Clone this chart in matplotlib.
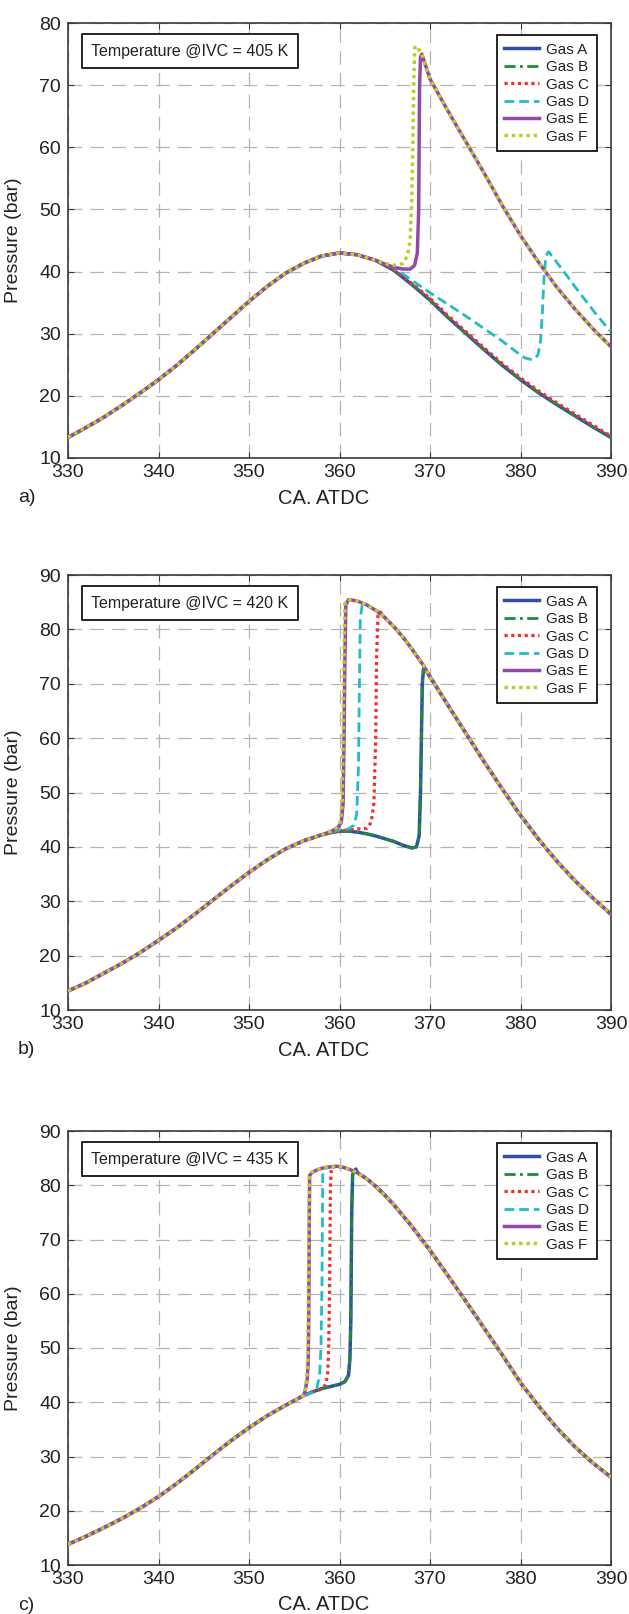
import numpy as np
import matplotlib
matplotlib.use("Agg")
import matplotlib.pyplot as plt

plt.rcParams['font.family'] = ['Liberation Sans', 'DejaVu Sans']

# ---------------- DATA ----------------
gas_names = ["Gas A", "Gas B", "Gas C", "Gas D", "Gas E", "Gas F"]
panel_tags = ["a)", "b)", "c)"]
ivc_temps = [405, 420, 435]
x_ticks = [330, 340, 350, 360, 370, 380, 390]
y_ticks_a = [10, 20, 30, 40, 50, 60, 70, 80]
y_ticks_bc = [10, 20, 30, 40, 50, 60, 70, 80, 90]

# ---- Panel a (405 K) ----
a_comp_x = [330, 332, 334, 336, 338, 340, 342, 344, 346, 348, 350, 352, 354, 356, 358, 360, 362, 364]
a_comp_p = [13.3, 14.9, 16.6, 18.5, 20.5, 22.6, 24.9, 27.4, 30.0, 32.6, 35.2, 37.6, 39.7, 41.3, 42.5, 43.0, 42.7, 41.8]
a_AB_x = [366, 368, 370, 372, 374, 376, 378, 380, 382, 384, 386, 388, 390]
a_AB_p = [40.2, 37.9, 35.4, 32.6, 30.0, 27.4, 24.9, 22.6, 20.5, 18.6, 16.8, 15.0, 13.3]
a_C_x = [366, 368, 370, 372, 374, 376, 378, 380, 382, 384, 386, 388, 390]
a_C_p = [40.3, 38.1, 35.7, 32.9, 30.3, 27.7, 25.2, 22.9, 20.8, 18.9, 17.1, 15.3, 13.5]
a_D_x = [366, 368, 370, 372, 374, 376, 378, 379.5, 380.5, 381.3, 381.9, 382.2, 382.4, 382.6, 382.8,
         383.1, 384, 385, 386, 387, 388, 389, 390]
a_D_p = [40.6, 38.6, 36.6, 34.7, 32.8, 30.8, 28.8, 27.1, 26.1, 25.8, 26.5, 28.5, 33.0, 39.0, 42.5,
         43.2, 41.5, 39.6, 37.6, 35.7, 33.8, 32.0, 30.3]
a_E_x = [365, 366, 367, 367.8, 368.3, 368.6, 368.75, 368.8, 368.85, 368.95, 369.1]
a_E_p = [41.2, 40.7, 40.4, 40.4, 41.0, 43.0, 50.0, 60.0, 70.0, 74.5, 75.0]
a_F_x = [365, 366, 367, 367.5, 367.8, 368.0, 368.1, 368.2, 368.3, 368.6, 368.9, 369.1]
a_F_p = [41.3, 41.0, 41.3, 42.5, 45.0, 52.0, 60.0, 70.0, 76.0, 76.3, 75.3, 75.0]
a_exp_x = [370, 371, 372, 374, 376, 378, 380, 382, 384, 386, 388, 390]
a_exp_p = [71.0, 68.4, 65.8, 60.8, 55.8, 50.6, 45.8, 41.5, 37.5, 34.0, 30.8, 27.9]

# ---- Panel b (420 K) ----
b_comp_x = [330, 332, 334, 336, 338, 340, 342, 344, 346, 348, 350, 352, 354, 356, 358]
b_comp_p = [13.5, 15.0, 16.8, 18.6, 20.6, 22.8, 25.1, 27.6, 30.2, 32.8, 35.3, 37.6, 39.6, 41.1, 42.2]
b_AB_x = [359, 360, 361, 362, 363, 364, 365, 366, 367, 368, 368.5, 368.8, 368.95, 369.05, 369.15, 369.3]
b_AB_p = [42.6, 42.9, 42.9, 42.7, 42.4, 42.0, 41.5, 41.0, 40.3, 39.8, 40.0, 42.0, 50.0, 60.0, 70.0, 73.0]
b_C_x = [359, 360, 361, 362, 363, 363.5, 363.8, 364.0, 364.1, 364.25, 364.5]
b_C_p = [42.6, 42.9, 43.1, 43.3, 43.4, 44.5, 48.0, 60.0, 75.0, 82.5, 83.2]
b_D_x = [359, 360, 361, 361.6, 361.9, 362.1, 362.2, 362.3, 362.5, 363]
b_D_p = [42.7, 43.1, 43.3, 44.0, 46.0, 55.0, 70.0, 82.0, 84.4, 84.5]
b_E_x = [359, 359.8, 360.2, 360.4, 360.5, 360.6, 360.7, 361.0, 362]
b_E_p = [42.8, 43.5, 44.5, 48.0, 60.0, 75.0, 84.5, 85.5, 85.2]
b_F_x = [359, 359.7, 360.1, 360.3, 360.4, 360.5, 360.6, 360.9, 362]
b_F_p = [42.8, 43.5, 44.6, 48.0, 60.0, 75.0, 84.8, 85.5, 85.2]
b_top_x = [363, 364, 365, 366, 367, 368, 369, 369.3]
b_top_p = [84.5, 83.5, 82.2, 80.5, 78.6, 76.4, 74.0, 73.3]
b_exp_x = [370, 372, 374, 376, 378, 380, 382, 384, 386, 388, 390]
b_exp_p = [71.3, 66.0, 60.8, 55.6, 50.6, 45.8, 41.4, 37.4, 33.8, 30.6, 27.6]

# ---- Panel c (435 K) ----
c_comp_x = [330, 332, 334, 336, 338, 340, 342, 344, 346, 348, 350, 352, 354, 355, 356]
c_comp_p = [13.8, 15.3, 16.9, 18.6, 20.5, 22.6, 25.0, 27.6, 30.3, 32.9, 35.3, 37.5, 39.4, 40.3, 41.2]
c_AB_x = [357, 358, 359, 360, 360.6, 361.0, 361.15, 361.25, 361.3, 361.35, 361.45, 361.8]
c_AB_p = [41.9, 42.5, 42.9, 43.3, 43.8, 45.0, 48.0, 55.0, 65.0, 75.0, 82.0, 83.0]
c_C_x = [357, 358, 358.5, 358.7, 358.8, 358.9, 358.95, 359.0, 359.1]
c_C_p = [41.9, 42.4, 43.3, 45.5, 50.0, 60.0, 70.0, 80.0, 83.2]
c_D_x = [357, 357.5, 357.8, 357.95, 358.05, 358.1, 358.15, 358.5]
c_D_p = [41.8, 42.6, 45.0, 50.0, 60.0, 70.0, 82.2, 83.1]
c_E_x = [356.2, 356.45, 356.55, 356.6, 356.65, 356.7, 357.0, 357.5, 358.0]
c_E_p = [42.0, 44.5, 48.0, 55.0, 70.0, 81.8, 82.4, 82.8, 83.1]
c_F_x = [356.2, 356.4, 356.5, 356.55, 356.6, 356.68, 357.0, 357.5, 358.0]
c_F_p = [42.1, 44.8, 48.5, 56.0, 70.0, 82.0, 82.5, 82.8, 83.1]
c_top_x = [358.5, 359, 359.6, 360.2, 361, 362]
c_top_p = [83.3, 83.4, 83.5, 83.4, 83.0, 82.3]
c_exp_x = [363, 364, 365, 366, 368, 370, 372, 374, 376, 378, 380, 382, 384, 386, 388, 390]
c_exp_p = [81.2, 79.8, 78.2, 76.4, 72.4, 68.0, 63.3, 58.5, 53.6, 48.7, 43.6, 39.3, 35.3, 31.8, 28.8, 26.2]

# ---------------- STYLE ----------------
colors = ['#2f4fa8', '#1f8a3c', '#f03030', '#22bcc4', '#9448a8', '#c0cc2a']
styles = ['-', (0, (4, 1.6, 1, 1.6)), (0, (1, 1.1)), (0, (3.5, 1.8)), '-', (0, (1, 1.1))]
widths = [2.5, 2.0, 2.3, 2.0, 2.5, 2.5]


def cat(*parts):
    out = []
    for p in parts:
        out.extend(p)
    return np.array(out, dtype=float)


series_a = [
    (cat(a_comp_x, a_AB_x), cat(a_comp_p, a_AB_p)),
    (cat(a_comp_x, a_AB_x), cat(a_comp_p, a_AB_p)),
    (cat(a_comp_x, a_C_x), cat(a_comp_p, a_C_p)),
    (cat(a_comp_x, a_D_x), cat(a_comp_p, a_D_p)),
    (cat(a_comp_x, a_E_x, a_exp_x), cat(a_comp_p, a_E_p, a_exp_p)),
    (cat(a_comp_x, a_F_x, a_exp_x), cat(a_comp_p, a_F_p, a_exp_p)),
]
series_b = [
    (cat(b_comp_x, b_AB_x, b_exp_x), cat(b_comp_p, b_AB_p, b_exp_p)),
    (cat(b_comp_x, b_AB_x, b_exp_x), cat(b_comp_p, b_AB_p, b_exp_p)),
    (cat(b_comp_x, b_C_x, b_top_x[2:], b_exp_x), cat(b_comp_p, b_C_p, b_top_p[2:], b_exp_p)),
    (cat(b_comp_x, b_D_x, b_top_x[1:], b_exp_x), cat(b_comp_p, b_D_p, b_top_p[1:], b_exp_p)),
    (cat(b_comp_x, b_E_x, b_top_x, b_exp_x), cat(b_comp_p, b_E_p, b_top_p, b_exp_p)),
    (cat(b_comp_x, b_F_x, b_top_x, b_exp_x), cat(b_comp_p, b_F_p, b_top_p, b_exp_p)),
]
series_c = [
    (cat(c_comp_x, c_AB_x, c_top_x[-1:], c_exp_x), cat(c_comp_p, c_AB_p, c_top_p[-1:], c_exp_p)),
    (cat(c_comp_x, c_AB_x, c_top_x[-1:], c_exp_x), cat(c_comp_p, c_AB_p, c_top_p[-1:], c_exp_p)),
    (cat(c_comp_x, c_C_x, c_top_x[2:], c_exp_x), cat(c_comp_p, c_C_p, c_top_p[2:], c_exp_p)),
    (cat(c_comp_x, c_D_x, c_top_x[1:], c_exp_x), cat(c_comp_p, c_D_p, c_top_p[1:], c_exp_p)),
    (cat(c_comp_x, c_E_x, c_top_x, c_exp_x), cat(c_comp_p, c_E_p, c_top_p, c_exp_p)),
    (cat(c_comp_x, c_F_x, c_top_x, c_exp_x), cat(c_comp_p, c_F_p, c_top_p, c_exp_p)),
]

W, H = 629, 1614
fig = plt.figure(figsize=(W / 100, H / 100), dpi=100)

panel_px = [(23, 458), (575, 1010), (1131, 1565)]
left_px, right_px = 68, 611
ylims = [(10, 80), (10, 90), (10, 90)]
yticks_all = [y_ticks_a, y_ticks_bc, y_ticks_bc]
all_series = [series_a, series_b, series_c]

spine_col = '#3a3a3a'
for i in range(3):
    top, bot = panel_px[i]
    ax = fig.add_axes([left_px / W, 1 - bot / H, (right_px - left_px) / W, (bot - top) / H])
    for k, (xs, ps) in enumerate(all_series[i]):
        ax.plot(xs, ps, color=colors[k], linestyle=styles[k], linewidth=widths[k],
                label=gas_names[k], zorder=3 + k)
    ax.set_xlim(330, 390)
    ax.set_ylim(*ylims[i])
    ax.set_xticks(x_ticks)
    ax.set_yticks(yticks_all[i])
    ax.grid(True, color='#b4b4b4', linestyle=(0, (11, 6.5)), linewidth=0.9, zorder=0)
    for s in ax.spines.values():
        s.set_color(spine_col)
        s.set_linewidth(1.2)
    ax.tick_params(direction='in', length=4, width=0.8, color=spine_col, top=True, right=True,
                   labelsize=14, labelcolor='#222222')
    ax.tick_params(axis='x', pad=4)
    ax.tick_params(axis='y', pad=5)
    ax.set_ylabel('Pressure (bar)', fontsize=14, color='#222222')
    ax.yaxis.set_label_coords(-0.085, 0.5)
    ax.set_xlabel('CA. ATDC', fontsize=14.5, color='#222222')
    ax.xaxis.set_label_coords(0.471, -0.092)
    ax.xaxis.label.set_verticalalignment('center')
    leg = ax.legend(loc='upper right', bbox_to_anchor=(0.974, 0.972), borderaxespad=0,
                    fontsize=11, handlelength=2.3, handletextpad=0.45, labelspacing=0.22,
                    borderpad=0.5, fancybox=False, framealpha=1, edgecolor='black')
    leg.get_frame().set_linewidth(1.2)
    for t in leg.get_texts():
        t.set_color('#222222')
    ax.text(0.043, 0.952, 'Temperature @IVC = %d K' % ivc_temps[i], transform=ax.transAxes,
            ha='left', va='top', fontsize=11.5, color='#222222', zorder=20,
            bbox=dict(boxstyle='square,pad=0.6', fc='white', ec='black', lw=1.2))
    fig.text(18 / W, 1 - (bot + 40) / H, panel_tags[i], fontsize=14, ha='left', va='center',
             color='#222222')

fig.savefig('out.png', dpi=100)
